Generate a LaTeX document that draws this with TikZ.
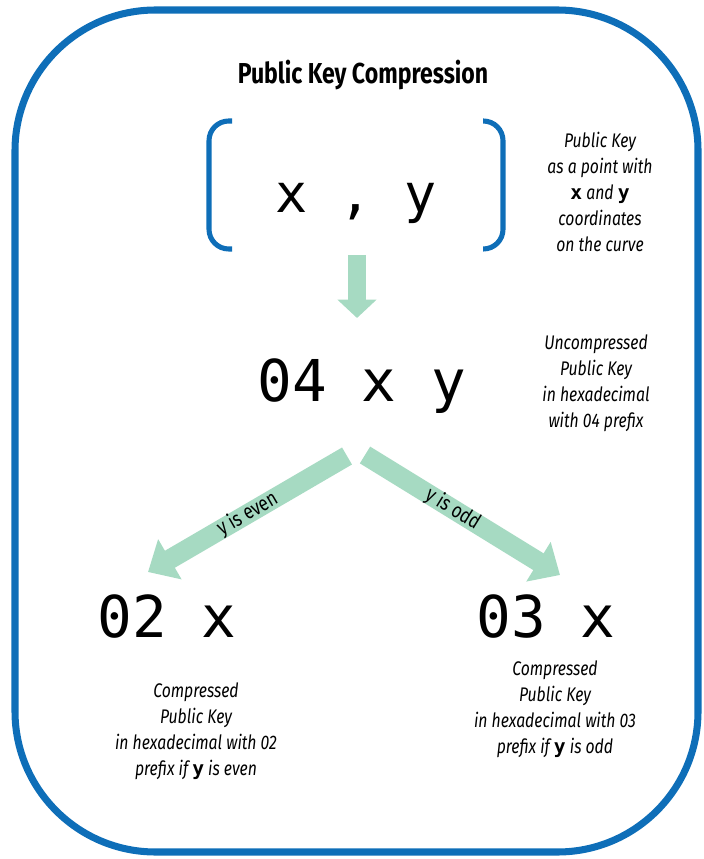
\documentclass[tikz,border=0pt]{standalone}
\usepackage{fontspec}
\setmainfont{Fira Sans}[FakeStretch=0.8]
\setmonofont{DejaVu Sans Mono}
\usetikzlibrary{arrows.meta}

\definecolor{keyblue}{RGB}{14,110,184}
\definecolor{keygreen}{RGB}{166,218,194}
\newcommand{\cvar}[1]{{\upshape\ttfamily\bfseries #1}}

\begin{document}
\begin{tikzpicture}[x=0.025cm,y=-0.025cm,
  hexnum/.style={font=\fontsize{41}{43}\selectfont\ttfamily, inner sep=0pt, anchor=base},
  note/.style={align=center, font=\fontsize{14}{18.5}\selectfont\itshape},
  caseLbl/.style={sloped, font=\fontsize{15}{17}\selectfont, inner sep=1pt},
  fatdown/.style={draw=keygreen, line width=13pt, -{Triangle[width=27pt,length=13pt]}},
  fatdiag/.style={draw=keygreen, line width=14pt, -{Triangle[width=32pt,length=18pt]}},
  bracket/.style={draw=keyblue, line width=3.6pt, rounded corners=14pt}]
\useasboundingbox (0,0) rectangle (703,859);
\path[draw=keyblue, line width=5pt, rounded corners=100pt] (15,10) rectangle (698,852);

\node[font=\fontsize{20.5}{22}\selectfont\bfseries] (title) at (363,75) {Public Key Compression};

% the point on the curve
\node[hexnum, font=\fontsize{38}{40}\selectfont\ttfamily] (point) at (356,213) {x , y};
\path[bracket] (232,121) -- (209,121) -- (209,249) -- (232,249);
\path[bracket] (483,121) -- (503,121) -- (503,249) -- (483,249);
\node[note] (pointnote) at (600,192) {Public Key\\as a point with\\\cvar{x} and \cvar{y}\\coordinates\\on the curve};

\node[hexnum] (uncomp) at (362,401) {04 x y};
\node[note] (uncompnote) at (596,383) {Uncompressed\\Public Key\\in hexadecimal\\with 04 prefix};

\node[hexnum] (even) at (167,637) {02 x};
\node[hexnum] (odd) at (546,637) {03 x};
\node[note] (evennote) at (196,731) {Compressed\\Public Key\\in hexadecimal with 02\\prefix if \cvar{y} is even};
\node[note] (oddnote) at (555,709) {Compressed\\Public Key\\in hexadecimal with 03\\prefix if \cvar{y} is odd};

\coordinate (downtail) at (357,255);
\coordinate (downtip) at (357,318);
\coordinate (eventail) at (347,456);
\coordinate (eventip) at (148,572);
\coordinate (oddtail) at (365,455);
\coordinate (oddtip) at (560,575);

\path[fatdown] (downtail) -- (downtip);
\path[fatdiag] (eventail) -- node[caseLbl] {y is even} (eventip);
\path[fatdiag] (oddtail) -- node[caseLbl, pos=0.45] {y is odd} (oddtip);
\end{tikzpicture}
\end{document}
